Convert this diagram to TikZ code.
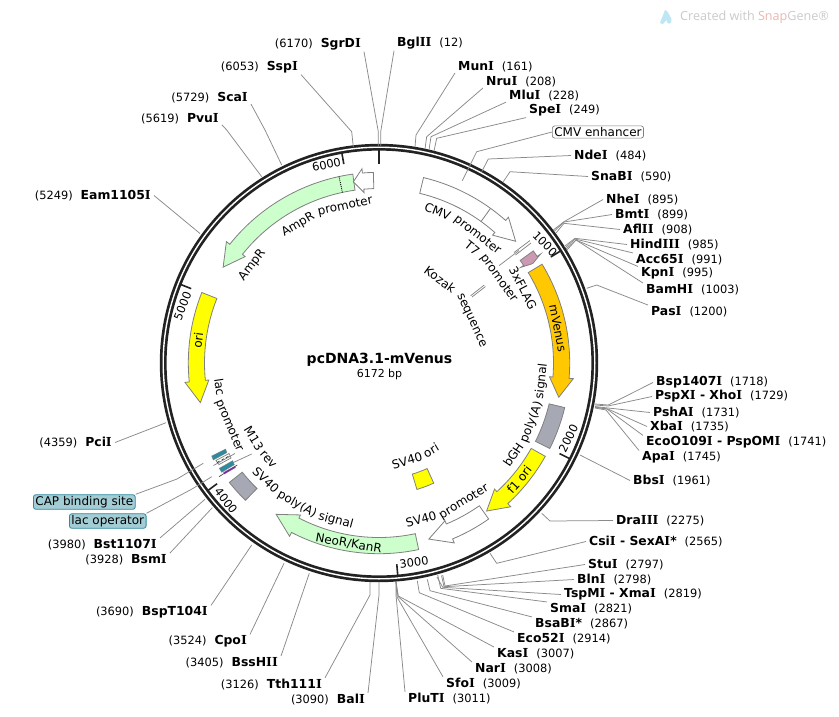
\documentclass[tikz,border=0pt]{standalone}
\usepackage{fontspec}
\setmainfont{DejaVu Sans}
\newfontfamily\wmfont{Open Sans}
\newfontfamily\serI{DejaVu Serif}
\definecolor{ringc}{HTML}{222222}
\definecolor{leadc}{HTML}{8A8A8A}
\definecolor{featline}{HTML}{808080}
\definecolor{ampg}{HTML}{CCFFCC}
\definecolor{orangeV}{HTML}{FFC800}
\definecolor{yellowF}{HTML}{FFFF00}
\definecolor{grayF}{HTML}{A6A9B3}
\definecolor{pinkF}{HTML}{CC99B2}
\definecolor{tealF}{HTML}{2E8B9E}
\definecolor{purpF}{HTML}{9933CC}
\definecolor{capfill}{HTML}{A3CDD5}
\definecolor{wmgray}{HTML}{CBCBCB}
\definecolor{wmred}{HTML}{F0B5AE}
\definecolor{wmblue}{HTML}{BFE6F5}
\newcommand\flab{\fontsize{12}{12}\selectfont}
\newcommand\fnum{\fontsize{11.4}{12}\selectfont}
\newcommand\fbold{\fontsize{12.4}{13}\selectfont\bfseries}
\newcommand\vI{{\serI I}}
\tikzset{
  leader/.style={draw=leadc,line width=0.75pt},
  feat/.style={draw=featline,line width=0.8pt,line join=miter},
  enzlabel/.style={inner xsep=3pt,inner ysep=1pt,text=black},
  ticktext/.style={inner sep=0pt,font=\fnum},
  arcword/.style={inner sep=0pt,anchor=base,font=\flab},
  tagwhite/.style={draw=featline,fill=white,rounded corners=2.5pt,inner xsep=2pt,inner ysep=1.5pt,font=\flab,line width=0.7pt},
  tagcap/.style={draw=tealF,fill=capfill,rounded corners=2.5pt,inner xsep=2pt,inner ysep=1.5pt,font=\flab,line width=0.8pt},
}
% right-hand label: bold text starts at x
\newcommand\renz[5]{\node[enzlabel,anchor=west] (#1) at ({#4-3},{#5+1.5}) {\fbold #2\hspace{8pt}\fnum\mdseries (#3)};}
% left-hand label: bold text ends at x
\newcommand\lenz[5]{\node[enzlabel,anchor=east] (#1) at ({#4+3},{#5+1.5}) {\fnum (#3)\hspace{8pt}\fbold #2};}
% feature arrow: tail a, head base b, tip t (degrees clockwise from top), colour
\newcommand\featarrow[4]{%
  \pgfmathsetmacro\fA{90-(#1)}\pgfmathsetmacro\fB{90-(#2)}\pgfmathsetmacro\fT{90-(#3)}%
  \draw[feat,fill=#4] (\fA:174.5pt) arc[start angle=\fA,end angle=\fB,radius=174.5pt]
    -- (\fB:171pt) -- (\fT:183pt) -- (\fB:195pt) -- (\fB:190.7pt)
    arc[start angle=\fB,end angle=\fA,radius=190.7pt] -- cycle;}
\newcommand\featbox[5]{%
  \pgfmathsetmacro\fA{90-(#1)}\pgfmathsetmacro\fB{90-(#2)}%
  \draw[feat,fill=#5] (\fA:#3pt) arc[start angle=\fA,end angle=\fB,radius=#3pt]
    -- (\fB:#4pt) arc[start angle=\fB,end angle=\fA,radius=#4pt] -- cycle;}
% word of a label following the ring: name, text, angle clockwise from top, baseline radius
\newcommand\cww[4]{%
  \pgfmathsetmacro\fA{90-(#3)}\pgfmathsetmacro\fB{-(#3)}%
  \node[arcword,rotate=\fB] (#1) at (\fA:#4pt) {#2};}
\newcommand\ccww[4]{%
  \pgfmathsetmacro\fA{90-(#3)}\pgfmathsetmacro\fB{180-(#3)}%
  \node[arcword,rotate=\fB] (#1) at (\fA:#4pt) {#2};}
\newcommand\tickat[3]{%
  \pgfmathsetmacro\fA{90-(#1)}%
  \draw[ringc,line width=#3] (\fA:213pt) -- (\fA:#2pt);}
\begin{document}
\begin{tikzpicture}[x=1pt,y=-1pt]
\useasboundingbox (0,0) rectangle (839,716);
\fill[white] (0,0) rectangle (839,716);

% watermark
\node[inner sep=0pt,anchor=west,text=wmgray,font=\wmfont\fontsize{12.6}{12}\selectfont] (wm) at (680,17) {Created with \textcolor{wmred}{Snap}Gene®};
\fill[wmblue] (660,23) -- (665,10) .. controls (667,10) and (669,14) .. (671.5,19) .. controls (672.5,25) and (666.5,25) .. (666.5,20) -- (663,24) -- cycle;

% feature shapes and the ring, centred on the map
\begin{scope}[shift={(379,363)},y=1pt]
  \draw[ringc,line width=6.8pt] (0,0) circle[radius=215.8pt];
  \draw[white,line width=1.4pt] (0,0) circle[radius=215.8pt];
  \tickat{0}{199}{2.6pt}
  \tickat{58.32}{202}{1.6pt}
  \tickat{116.64}{202}{1.6pt}
  \tickat{174.95}{202}{1.6pt}
  \tickat{233.3}{202}{1.6pt}
  \tickat{291.6}{202}{1.6pt}
  \tickat{349.97}{202}{1.6pt}

  \featarrow{-7.9}{-51.5}{-58.4}{ampg}
  \draw[black,line width=0.9pt,densely dotted] (102.1:174.5pt) -- (102.1:190.7pt);
  \featarrow{-1.7}{-5}{-8.07}{white}
  \featarrow{13.5}{41.6}{48.3}{white}
  \draw[featline,line width=0.8pt] (54.2:174.5pt) -- (54.2:190.7pt);
  \featarrow{54}{56}{57.1}{pinkF}
  \featarrow{58.8}{94.6}{100.8}{orangeV}
  \featbox{103.5}{116.6}{175}{191}{grayF}
  \featarrow{119.3}{137.5}{144}{yellowF}
  \featarrow{144.9}{157.3}{164.2}{white}
  \featarrow{168}{207.3}{214.2}{ampg}
  \featbox{224.2}{231.4}{175}{191.5}{grayF}
  \featarrow{291.7}{264.3}{257.5}{yellowF}
  \featbox{155.5}{163.3}{116}{132}{yellowF}

  \cww{ampA}{AmpR}{-30.3}{157}\cww{ampB}{promoter}{-12.16}{157}
  \cww{ampr}{AmpR}{-52.3}{157}
  \cww{cmvA}{CMV}{21.18}{158}\cww{cmvB}{promoter}{37.57}{158}
  \cww{tsA}{T7}{39.08}{143.5}\cww{tsB}{promoter}{54.75}{143.5}
  \cww{flag}{3xFLAG}{62.5}{158}
  \cww{kozA}{Kozak}{36.17}{99}\cww{kozB}{sequence}{65.46}{99}
  \cww{venus}{mVenus}{79}{178}
  \cww{oriL}{ori}{277.2}{178}
  \ccww{bghA}{bGH}{124.37}{167}\ccww{bghB}{poly(A)}{111.25}{167}\ccww{bghC}{signal}{96.48}{167}
  \ccww{foA}{f1}{132.67}{187}\ccww{foB}{ori}{127.29}{187}
  \ccww{spA}{SV40}{164.9}{166}\ccww{spB}{promoter}{148.58}{166}
  \ccww{soA}{SV40}{163.94}{106}\ccww{soB}{ori}{149.27}{106}
  \ccww{neo}{NeoR/KanR}{189.5}{187}
  \ccww{pasA}{SV40}{224.07}{167}\ccww{pasB}{poly(A)}{210.05}{167}\ccww{pasC}{signal}{195.28}{167}
  \ccww{mtA}{M13}{238.92}{150.5}\ccww{mtB}{rev}{228.9}{150.5}
  \ccww{lacA}{lac}{261.33}{165.5}\ccww{lacB}{promoter}{247.35}{165.5}
\end{scope}

% small lac-region features
\fill[tealF,draw=featline,line width=0.4pt] (211.7,456) -- (225.7,449) -- (226.7,452.7) -- (213.3,460) -- cycle;
\draw[featline,line width=0.7pt,fill=white] (216,460.5) -- (229,453.5) -- (231,458) -- (219,464.5) -- cycle;
\draw[black,line width=0.5pt,densely dashed] (217,462.5) -- (230,455.5);
\draw[featline,line width=0.7pt] (213.5,465.5) -- (235,453.5);
\fill[tealF,draw=featline,line width=0.4pt] (219.3,468.3) -- (232.7,460.7) -- (234.3,464.7) -- (221.7,472.3) -- cycle;
\fill[purpF] (223.3,472.3) -- (235,466) -- (235.7,467.7) -- (224.3,474.3) -- cycle;
\draw[black!70,line width=0.7pt] (219,476.7) -- (237.3,465);

% T7 promoter and Kozak thin features
\coordinate (t7a) at (514,252.5); \coordinate (t7b) at (530,240.5);
\coordinate (t7c) at (515.5,255); \coordinate (t7d) at (531,243);
\draw[featline,line width=0.7pt] (t7a) -- (t7b) (t7c) -- (t7d);
\coordinate (t7free) at (499,265.7); \coordinate (t7end) at (519,250.5);
\draw[leader] (t7free) -- (t7end);
\coordinate (koza) at (470.7,295.7); \coordinate (kozb) at (484.3,285);
\coordinate (kozc) at (472,297); \coordinate (kozd) at (485.5,286.5);
\draw[featline,line width=0.7pt] (koza) -- (kozb) (kozc) -- (kozd);
\coordinate (m13free) at (251.7,454); \coordinate (m13end) at (233,462.7);
\draw[leader] (m13free) -- (m13end);

% tick labels
\node[ticktext,rotate=-45] (t1000) at (545,244) {1000};
\node[ticktext,rotate=63.4] (t2000) at (568.5,438.5) {2000};
\node[ticktext,rotate=8] (t3000) at (414,562) {3000};
\node[ticktext,rotate=-53] (t4000) at (226,500.5) {4000};
\node[ticktext,rotate=68.4] (t5000) at (182.5,306) {5000};
\node[ticktext,rotate=12] (t6000) at (326.5,164.5) {6000};

% centre title
\node[inner sep=0pt,font=\fontsize{14}{14}\selectfont\bfseries] (title) at (379.5,360) {pcDNA3.1-mVenus};
\node[inner sep=0pt,font=\fontsize{11}{11}\selectfont] (size) at (379.5,374.5) {6172 bp};

% labelled tags
\node[tagwhite,anchor=west] (cmve) at (552,132) {CMV enhancer};
\node[tagcap,anchor=west] (cap) at (33,502) {CAP binding site};
\node[tagcap,anchor=west] (lacop) at (69,521) {lac operator};
\draw[leader] (cmve.west) -- (476.7,151.7) -- (462.3,180.7);
\draw[leader] (cap.north east) -- (177,479) -- (203.3,463.3);
\draw[leader] (lacop.north east) -- (192,489) -- (211.7,476.7);

% restriction sites, left and top
\lenz{SgrDI}{SgrD\vI}{6170}{361}{43}
\lenz{SspI}{Ssp\vI}{6053}{298}{66}
\lenz{ScaI}{Sca\vI}{5729}{248}{96}
\lenz{PvuI}{Pvu\vI}{5619}{219}{117}
\lenz{Eam}{Eam1105\vI}{5249}{151}{194}
\lenz{PciI}{Pci\vI}{4359}{112}{441}
\lenz{Bst}{Bst1107\vI}{3980}{157}{543}
\lenz{BsmI}{Bsm\vI}{3928}{167}{558}
\lenz{BspT}{BspT104\vI}{3690}{208}{611}
\lenz{CpoI}{Cpo\vI}{3524}{247}{640}
\lenz{BssHII}{BssH\vI\vI}{3405}{278}{661}
\lenz{Tth}{Tth111\vI}{3126}{322}{683}
\lenz{BalI}{Bal\vI}{3090}{365}{698}
\draw[leader] (SgrDI.south east) -- (378.3,131.7) -- (378.3,146);
\draw[leader] (SspI.south east) -- (351.7,131.7) -- (353.3,147);
\draw[leader] (ScaI.south east) -- (265,130) -- (281.7,165);
\draw[leader] (PvuI.south east) -- (226.7,130) -- (261.7,176.7);
\draw[leader] (Eam.east) -- (200,233.5);
\draw[leader] (PciI.east) -- (166,422.7);
\draw[leader] (Bst.north east) -- (205,499.3);
\draw[leader] (BsmI.north east) -- (212.3,507.7);
\draw[leader] (BspT.north east) -- (251.7,545);
\draw[leader] (CpoI.north east) -- (284,563.3);
\draw[leader] (BssHII.north east) -- (309.3,573.3);
\draw[leader] (Tth.north east) -- (370,595) -- (370,582);
\draw[leader] (BalI.north east) -- (379,595) -- (379,582);

% restriction sites, right
\renz{BglII}{Bgl\vI\vI}{12}{397}{42}
\renz{MunI}{Mun\vI}{161}{458}{65}
\renz{NruI}{Nru\vI}{208}{486}{80}
\renz{MluI}{Mlu\vI}{228}{509}{94}
\renz{SpeI}{Spe\vI}{249}{529}{109}
\renz{NdeI}{Nde\vI}{484}{574}{154}
\renz{SnaBI}{SnaB\vI}{590}{591}{175}
\renz{NheI}{Nhe\vI}{895}{606}{198}
\renz{BmtI}{Bmt\vI}{899}{615}{213}
\renz{AflII}{Afl\vI\vI}{908}{623}{228}
\renz{HindIII}{Hind\vI\vI\vI}{985}{630}{243}
\renz{Acc}{Acc65\vI}{991}{636}{258}
\renz{KpnI}{Kpn\vI}{995}{641}{272}
\renz{BamHI}{BamH\vI}{1003}{646}{288}
\renz{PasI}{Pas\vI}{1200}{651}{310}
\renz{Bsp}{Bsp1407\vI}{1718}{656}{381}
\renz{PspXI}{PspX\vI\ - Xho\vI}{1729}{655}{395}
\renz{PshAI}{PshA\vI}{1731}{653}{411}
\renz{XbaI}{Xba\vI}{1735}{650}{425}
\renz{EcoO}{EcoO109\vI\ - PspOM\vI}{1741}{646}{441}
\renz{ApaI}{Apa\vI}{1745}{642}{456}
\renz{BbsI}{Bbs\vI}{1961}{633}{479}
\renz{DraIII}{Dra\vI\vI\vI}{2275}{616}{519}
\renz{CsiI}{Csi\vI\ - SexA\vI*}{2565}{589}{540}
\renz{StuI}{Stu\vI}{2797}{588}{563}
\renz{BlnI}{Bln\vI}{2798}{577}{578}
\renz{TspMI}{TspM\vI\ - Xma\vI}{2819}{564}{593}
\renz{SmaI}{Sma\vI}{2821}{550}{607}
\renz{BsaBI}{BsaB\vI*}{2867}{535}{622}
\renz{Eco}{Eco52\vI}{2914}{517}{637}
\renz{KasI}{Kas\vI}{3007}{497}{652}
\renz{NarI}{Nar\vI}{3008}{475}{667}
\renz{SfoI}{Sfo\vI}{3009}{446}{682}
\renz{PluTI}{PluT\vI}{3011}{408}{697}
\draw[leader] (BglII.south west) -- (380.7,131.7) -- (380.7,146);
\draw[leader] (MunI.south west) -- (416,135) -- (415,147);
\draw[leader] (NruI.south west) -- (426.7,136.7) -- (425,149);
\draw[leader] (MluI.south west) -- (431,136.7) -- (429,150);
\draw[leader] (SpeI.south west) -- (436.7,138.3) -- (434,151);
\draw[leader] (NdeI.west) -- (488.3,159) -- (481.7,171.7);
\draw[leader] (SnaBI.west) -- (510,171.7) -- (503.3,181.7);
\draw[leader] (NheI.west) -- (564,221.7) -- (553.3,230);
\draw[leader] (BmtI.west) -- (564,222) -- (554.5,231);
\draw[leader] (AflII.west) -- (564,223.3) -- (556,233);
\draw[leader] (HindIII.west) -- (575,238.3) -- (564,246.7);
\draw[leader] (Acc.north west) -- (575,239) -- (565,248);
\draw[leader] (KpnI.north west) -- (576,240) -- (566,249);
\draw[leader] (BamHI.north west) -- (576,240) -- (567,250);
\draw[leader] (PasI.north west) -- (596.7,285) -- (586.7,288.3);
\draw[leader] (Bsp.west) -- (608.3,405) -- (595,404);
\draw[leader] (PspXI.west) -- (608,406) -- (595,405);
\draw[leader] (PshAI.west) -- (608,408) -- (595,406.5);
\draw[leader] (XbaI.west) -- (608,409) -- (595,407);
\draw[leader] (EcoO.north west) -- (607,409) -- (595,407.5);
\draw[leader] (ApaI.north west) -- (606,410) -- (595,408);
\draw[leader] (BbsI.west) -- (580,455);
\draw[leader] (DraIII.west) -- (550,521) -- (541.7,513.3);
\draw[leader] (CsiI.west) -- (496.7,563.3) -- (490,553.3);
\draw[leader] (StuI.west) -- (445,586) -- (442.7,575);
\draw[leader] (BlnI.west) -- (444,586.7) -- (441.5,575.5);
\draw[leader] (TspMI.west) -- (442.7,587.3) -- (437,577);
\draw[leader] (SmaI.north west) -- (440.7,588.3) -- (437.7,575);
\draw[leader] (BsaBI.north west) -- (430,590.7) -- (427.3,579.3);
\draw[leader] (Eco.north west) -- (419.3,592.7) -- (417.3,580.7);
\draw[leader] (KasI.north west) -- (398.3,596) -- (396,582);
\draw[leader] (NarI.north west) -- (398,596.5) -- (396,582);
\draw[leader] (SfoI.north west) -- (397,597) -- (396,582);
\draw[leader] (PluTI.north west) -- (396,595) -- (396,582);
\end{tikzpicture}
\end{document}
